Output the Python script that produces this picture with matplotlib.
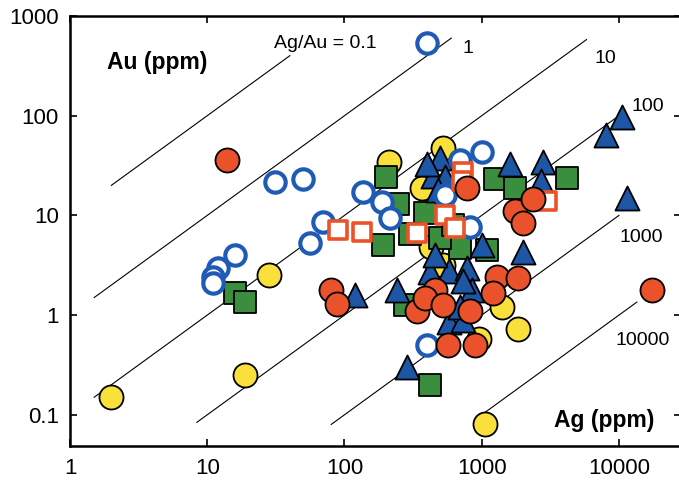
import matplotlib
matplotlib.use('Agg')
import matplotlib.pyplot as plt
import numpy as np

plt.rcParams['font.family'] = ['Liberation Sans', 'DejaVu Sans']

# Ag (ppm), Au (ppm) for each group
yellow_ag = [2, 19, 28, 1050, 1850, 1400, 210, 520, 370, 520, 950, 430]
yellow_au = [0.15, 0.25, 2.5, 0.08, 0.72, 1.2, 34, 47, 19, 3.2, 0.58, 4.8]

green_ag = [16, 19, 420, 200, 245, 385, 1250, 1750, 4200, 700, 1100, 275, 190, 300, 500, 620]
green_au = [1.65, 1.35, 0.2, 24, 13, 10.5, 23, 19, 23.5, 4.7, 4.5, 1.25, 5, 6.5, 6, 8]

tri_ag = [10500, 8100, 11500, 1600, 2800, 2700, 500, 440, 540, 480, 2000, 420, 580,
          780, 240, 120, 285, 580, 730, 850, 730, 700, 1000, 400, 460]
tri_au = [97, 64, 15, 33, 34, 22, 38, 25, 24, 18, 4.3, 2.7, 2.8,
          3.0, 1.8, 1.6, 0.3, 0.85, 0.9, 1.8, 2.2, 1.2, 5, 33, 4]

ocirc_ag = [400, 31, 50, 70, 136, 187, 215, 56, 16, 12, 11, 11, 1000, 690, 540, 820, 400]
ocirc_au = [540, 21.5, 23, 8.6, 17, 13.5, 9.4, 5.3, 4.0, 3.0, 2.4, 2.1, 43, 36, 16, 7.7, 0.5]

osq_ag = [90, 135, 335, 730, 540, 640, 3000, 720]
osq_au = [7.1, 6.8, 6.7, 27, 10, 7.5, 14, 22]

red_ag = [14, 17500, 80, 88, 780, 1750, 2350, 2000, 1300, 1850, 1200, 455, 340, 385,
          520, 820, 565, 890]
red_au = [36, 1.8, 1.8, 1.28, 19, 11, 14.5, 8.4, 2.4, 2.35, 1.65, 1.8, 1.1, 1.5,
          1.25, 1.1, 0.5, 0.5]

# Ag/Au ratio lines: ratio, x start, x end, label, label position
ratios = [0.1, 1, 10, 100, 1000, 10000]
line_x0 = [2, 1.5, 1.5, 8.4, 80, 1000]
line_x1 = [40, 600, 5800, 10000, 10000, 13500]
ratio_labels = ['Ag/Au = 0.1', '1', '10', '100', '1000', '10000']
label_x = [72, 800, 7900, 16200, 14600, 15000]
label_y = [524, 477, 371, 125, 6.0, 0.55]

fig = plt.figure(figsize=(6.79, 4.82), dpi=100)
ax = fig.add_axes([70/679, 36/482, 611/679, 430/482])

for r, x0, x1 in zip(ratios, line_x0, line_x1):
    xs = np.array([x0, x1])
    ax.plot(xs, xs / r, color='black', lw=0.8, zorder=1)
for t, lx, ly in zip(ratio_labels, label_x, label_y):
    ax.text(lx, ly, t, fontsize=14, ha='center', va='center')

ax.scatter(yellow_ag, yellow_au, s=300, marker='o', facecolor='#F9E03B', edgecolor='black', lw=1.3, zorder=2)
ax.scatter(green_ag, green_au, s=235, marker='s', facecolor='#3B8E3E', edgecolor='black', lw=1.3, zorder=3)
ax.scatter(tri_ag, tri_au, s=300, marker='^', facecolor='#1D56A5', edgecolor='black', lw=1.3, zorder=4)
ax.scatter(ocirc_ag, ocirc_au, s=215, marker='o', facecolor='white', edgecolor='#1F5BB5', lw=3, zorder=5)
ax.scatter(osq_ag, osq_au, s=180, marker='s', facecolor='white', edgecolor='#EB5228', lw=2.6, zorder=6)
ax.scatter(red_ag, red_au, s=300, marker='o', facecolor='#E9522A', edgecolor='black', lw=1.3, zorder=7)

ax.set_xscale('log')
ax.set_yscale('log')
ax.set_xlim(1, 10**4.452)
ax.set_ylim(10**-1.313, 1000)
ax.set_xticks([1, 10, 100, 1000, 10000])
ax.set_xticklabels(['1', '10', '100', '1000', '10000'])
ax.set_yticks([0.1, 1, 10, 100, 1000])
ax.set_yticklabels(['0.1', '1', '10', '100', '1000'])
ax.minorticks_off()
ax.tick_params(which='both', direction='in', top=True, right=True, length=5, width=1.2, labelsize=16)
ax.tick_params(axis='y', pad=8)
ax.tick_params(axis='x', pad=9)
for sp in ax.spines.values():
    sp.set_linewidth(1.8)

ax.text(0.143, 0.891, 'Au (ppm)', transform=ax.transAxes, fontsize=16.5, fontweight='bold', ha='center', va='center')
ax.text(0.874, 0.06, 'Ag (ppm)', transform=ax.transAxes, fontsize=16.5, fontweight='bold', ha='center', va='center')

fig.savefig('out.png', dpi=100)
